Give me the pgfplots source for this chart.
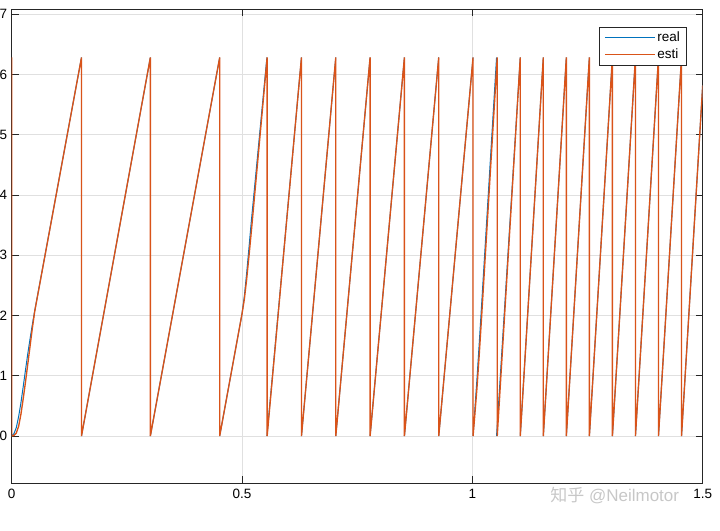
\documentclass[border=0pt]{standalone}
\usepackage{fontspec}
\setmainfont{Liberation Sans}
\newfontfamily\cjk{Noto Sans CJK SC}
\usepackage{pgfplots}
\pgfplotsset{compat=1.18}
\definecolor{mblue}{RGB}{0,114,189}
\definecolor{morange}{RGB}{217,83,25}
\definecolor{axcol}{RGB}{38,38,38}
\begin{document}
\begin{tikzpicture}
\useasboundingbox (-11.7pt,-47pt) rectangle (708.3pt,473.5pt+9.5pt);
\begin{axis}[
  at={(0pt,0pt)}, anchor=south west,
  scale only axis, width=691pt, height=473.5pt,
  xmin=0, xmax=1.5, ymin=-0.78, ymax=7.08,
  xtick={0,0.5,1,1.5}, ytick={0,1,2,3,4,5,6,7},
  tick align=inside, major tick length=7pt,
  tick style={axcol, line width=0.6pt},
  axis line style={axcol, line width=0.8pt},
  grid=major, major grid style={black!12, line width=0.6pt},
  unbounded coords=jump,
  /pgf/number format/assume math mode=true,
  ticklabel style={font=\fontsize{13.5}{16}\selectfont, text=black},
  xticklabel style={yshift=-3pt},
  yticklabel style={xshift=-1pt},
  legend style={at={(0.9769,0.9637)}, anchor=north east, draw=axcol, line width=0.6pt,
    font=\fontsize{13.5}{16}\selectfont, inner xsep=4.5pt, inner ysep=3pt, row sep=1.5pt},
  legend cell align=left,
  legend image code/.code={\draw[#1, line width=1.3pt] (0pt,0pt) -- (50pt,0pt);},
]
\addplot[mblue, line width=1.0pt] coordinates {
(0,0) (0.005,0.04) (0.01,0.14) (0.015,0.32) (0.02,0.55) (0.025,0.82) (0.03,1.1)
(0.035,1.37) (0.04,1.62) (0.045,1.86) (0.05,2.08)
(0.1515,6.2832) (0.1515,nan) (0.1515,0) (0.3010,6.2832) (0.3010,nan) (0.3010,0)
(0.4515,6.2832) (0.4515,nan) (0.4515,0)
(0.5,2.03) (0.505,2.32) (0.51,2.7) (0.515,3.12) (0.52,3.55) (0.5540,6.2832) (0.5540,nan) (0.5540,0)
(0.629,6.2832) (0.629,nan) (0.629,0) (0.7035,6.2832) (0.7035,nan) (0.7035,0)
(0.778,6.2832) (0.778,nan) (0.778,0) (0.8525,6.2832) (0.8525,nan) (0.8525,0)
(0.927,6.2832) (0.927,nan) (0.927,0) (1.0015,6.2832) (1.0015,nan) (1.0015,0)
(1.005,0.4) (1.01,0.95) (1.015,1.55) (1.02,2.17) (1.0525,6.2832) (1.0525,nan) (1.0525,0)
(1.104,6.2832) (1.104,nan) (1.104,0) (1.154,6.2832) (1.154,nan) (1.154,0)
(1.204,6.2832) (1.204,nan) (1.204,0) (1.254,6.2832) (1.254,nan) (1.254,0)
(1.304,6.2832) (1.304,nan) (1.304,0) (1.354,6.2832) (1.354,nan) (1.354,0)
(1.404,6.2832) (1.404,nan) (1.404,0) (1.454,6.2832) (1.454,nan) (1.454,0) (1.5,5.82)
};
\addlegendentry{real}
\addplot[morange, line width=1.35pt] coordinates {
(0,6.2832) (0,0) (0.005,0.01) (0.01,0.05) (0.015,0.16) (0.02,0.36) (0.025,0.62)
(0.03,0.9) (0.035,1.2) (0.04,1.5) (0.045,1.8) (0.05,2.07)
(0.1515,6.2832) (0.1515,0) (0.3010,6.2832) (0.3010,0) (0.4515,6.2832) (0.4515,0)
(0.5,2.03) (0.505,2.27) (0.51,2.6) (0.515,2.98) (0.52,3.38) (0.5545,6.2832) (0.5545,0)
(0.629,6.2832) (0.629,0) (0.7035,6.2832) (0.7035,0) (0.778,6.2832) (0.778,0)
(0.8525,6.2832) (0.8525,0) (0.927,6.2832) (0.927,0) (1.0015,6.2832) (1.0015,0)
(1.005,0.32) (1.01,0.8) (1.015,1.36) (1.02,1.97) (1.054,6.2832) (1.054,0)
(1.104,6.2832) (1.104,0) (1.154,6.2832) (1.154,0) (1.204,6.2832) (1.204,0)
(1.254,6.2832) (1.254,0) (1.304,6.2832) (1.304,0) (1.354,6.2832) (1.354,0)
(1.404,6.2832) (1.404,0) (1.454,6.2832) (1.454,0) (1.5,5.82)
};
\addlegendentry{esti}
\end{axis}
\node[text=black!22, font=\fontsize{17}{20}\selectfont, anchor=center] at (603pt,-13pt) {{\cjk 知乎} @Neilmotor};
\end{tikzpicture}
\end{document}
